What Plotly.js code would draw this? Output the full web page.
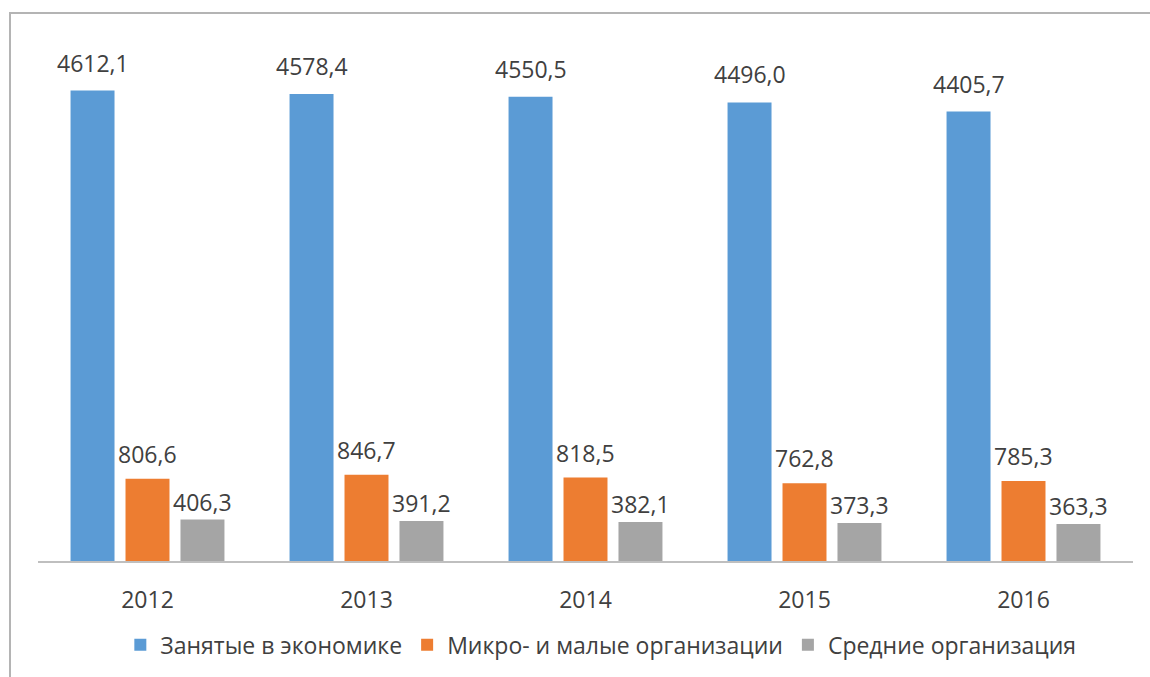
<!DOCTYPE html>
<html>
<head>
<meta charset="utf-8">
<script src="https://cdn.plot.ly/plotly-3.0.1.min.js"></script>
<style>
  html, body { margin: 0; padding: 0; background: #fff; }
  #wrap { position: relative; width: 1150px; height: 677px; overflow: hidden; }
  #frame { position: absolute; left: 9px; top: 12px; width: 1160px; height: 700px; border: 2px solid #b4b4b4; box-sizing: border-box; pointer-events: none; }
  #chart { position: absolute; left: 0; top: 0; width: 1150px; height: 677px; }
</style>
</head>
<body>
<div id="wrap">
  <div id="chart"></div>
  <div id="frame"></div>
</div>
<script>
const years = ['2012', '2013', '2014', '2015', '2016'];
const employed = [4612.1, 4578.4, 4550.5, 4496.0, 4405.7];
const microSmall = [806.6, 846.7, 818.5, 762.8, 785.3];
const medium = [406.3, 391.2, 382.1, 373.3, 363.3];
const seriesNames = ['Занятые в экономике', 'Микро- и малые организации', 'Средние организация'];

const colors = ['#5b9bd5', '#ed7d31', '#a5a5a5'];
const font = { family: 'Open Sans, sans-serif', size: 23, color: '#404040' };
const labelFont = { family: 'Open Sans, sans-serif', size: 23, color: '#404040' };

function fmt(v) { return v.toFixed(1).replace('.', ','); }

const seriesValues = [employed, microSmall, medium];

const traces = seriesValues.map((vals, i) => ({
  type: 'bar',
  name: seriesNames[i],
  x: years,
  y: vals,
  marker: { color: colors[i] },
  hoverinfo: 'none'
}));

// label styling: horizontal offset matches group slot, vertical gap per series
const slotShift = [-55, 0, 55];
const labelLift = [10, 7, 0];
const annotations = [];
seriesValues.forEach((vals, i) => {
  vals.forEach((v, j) => {
    annotations.push({
      xref: 'x', yref: 'y',
      x: j, y: v,            // category index of years[j]
      text: fmt(v),
      showarrow: false,
      xanchor: 'center', yanchor: 'bottom',
      xshift: slotShift[i], yshift: labelLift[i],
      font: labelFont
    });
  });
});

const layout = {
  width: 1150,
  height: 677,
  margin: { l: 38, r: 17, t: 51, b: 115 },
  paper_bgcolor: '#ffffff',
  plot_bgcolor: '#ffffff',
  font: font,
  barmode: 'group',
  bargap: 0.247,
  bargroupgap: 0.2,
  showlegend: true,
  annotations: annotations,
  legend: {
    orientation: 'h',
    x: 0.514, xanchor: 'center',
    y: -0.162, yanchor: 'middle',
    font: font,
    itemwidth: 30,
    traceorder: 'normal'
  },
  xaxis: {
    type: 'category',
    categoryorder: 'array',
    categoryarray: years,
    range: [-0.5, years.length - 0.5],
    showline: true,
    linecolor: '#bfbfbf',
    linewidth: 1.5,
    ticks: '',
    ticklabelstandoff: 18,
    tickfont: font,
    showgrid: false,
    zeroline: false
  },
  yaxis: {
    range: [0, 5000],
    visible: false,
    showgrid: false,
    zeroline: false
  }
};

Plotly.newPlot('chart', traces, layout, { displayModeBar: false, staticPlot: true });
</script>
</body>
</html>
